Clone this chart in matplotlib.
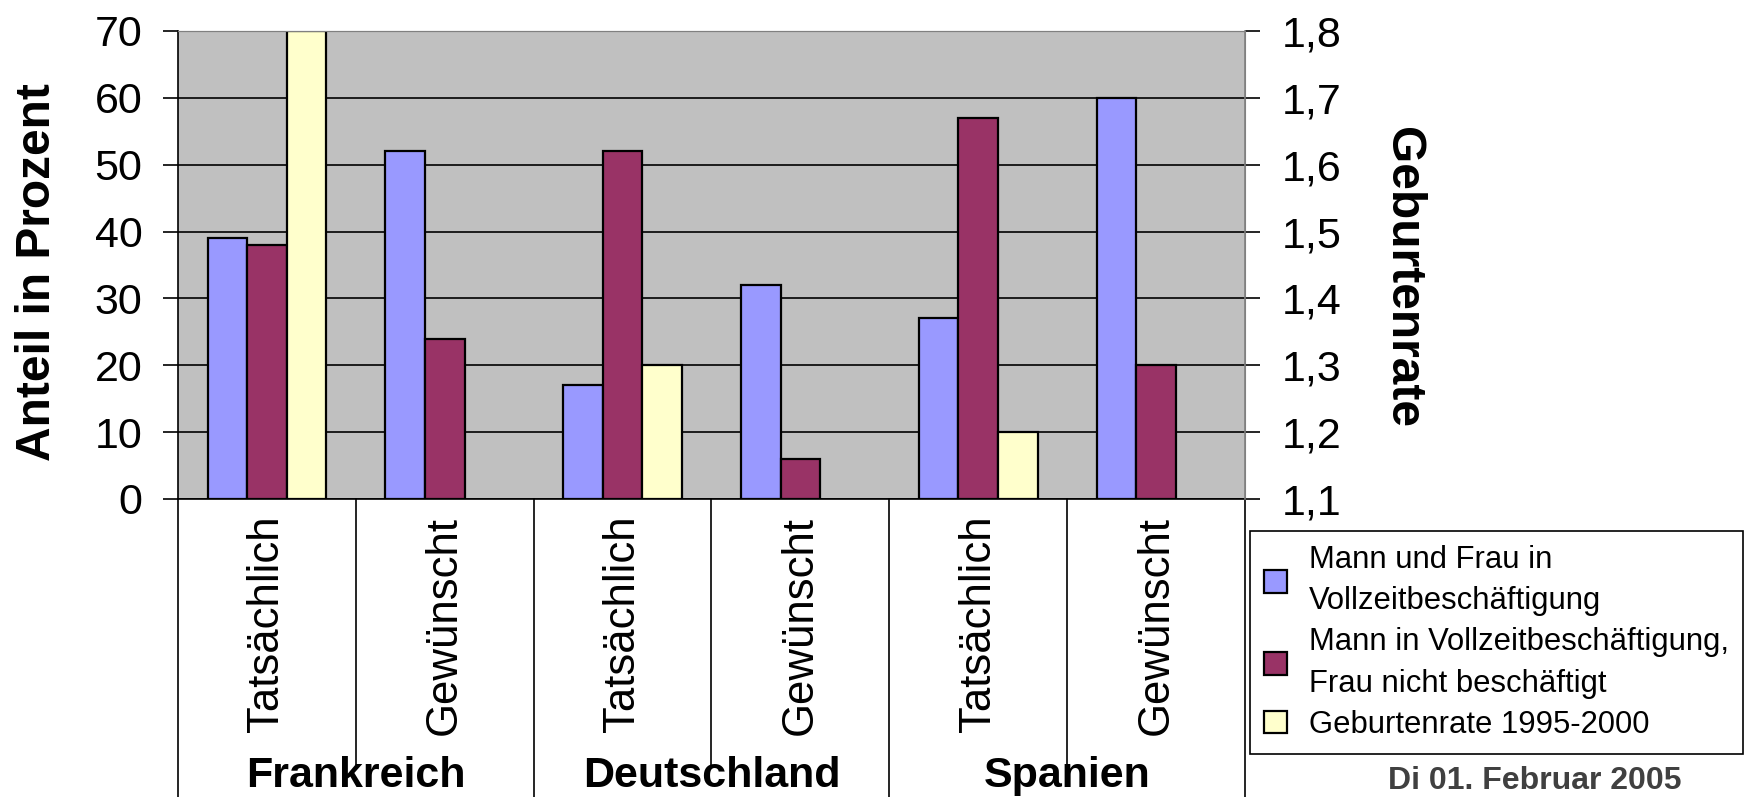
import numpy as np
import matplotlib
matplotlib.use("Agg")
import matplotlib.pyplot as plt

plt.rcParams['font.family'] = ['Liberation Sans', 'DejaVu Sans']

# ---- data ----
categories = ["Tatsächlich", "Gewünscht", "Tatsächlich", "Gewünscht", "Tatsächlich", "Gewünscht"]
countries = ["Frankreich", "Deutschland", "Spanien"]
beide_vollzeit = [39, 52, 17, 32, 27, 60]
nur_mann = [38, 24, 52, 6, 57, 20]
geburtenrate = [1.8, None, 1.3, None, 1.2, None]
left_ticks = [0, 10, 20, 30, 40, 50, 60, 70]
right_ticks = [1.1, 1.2, 1.3, 1.4, 1.5, 1.6, 1.7, 1.8]
right_tick_labels = ["1,1", "1,2", "1,3", "1,4", "1,5", "1,6", "1,7", "1,8"]
series_labels = ["Mann und Frau in\nVollzeitbeschäftigung",
                 "Mann in Vollzeitbeschäftigung,\nFrau nicht beschäftigt",
                 "Geburtenrate 1995-2000"]
date_text = "Di 01. Februar 2005"

# ---- layout ----
W, H = 1753, 797
fig = plt.figure(figsize=(W / 100, H / 100), dpi=100)
def fx(px): return px / W
def fy(py): return 1 - py / H
L, R, T, B = 178, 1245, 31, 499
ax = fig.add_axes([fx(L), fy(B), fx(R) - fx(L), fy(T) - fy(B)])
ax.set_facecolor('#C0C0C0')
ax.set_axisbelow(True)

x = np.arange(len(categories))
w = 1 / 4.5
b1 = ax.bar(x - w, beide_vollzeit, w, color='#9999FF', edgecolor='black', linewidth=1.6)
b2 = ax.bar(x, nur_mann, w, color='#993366', edgecolor='black', linewidth=1.6)
ax.set_xlim(-0.5, len(categories) - 0.5)
ax.set_ylim(0, 70)
ax.set_yticks(left_ticks)
ax.yaxis.grid(True, color='black', linewidth=1.2)
ax.tick_params(axis='y', length=10.5, width=1.2, pad=15, labelsize=31)
ax.set_xticks(x, categories, rotation=90, fontsize=31.5, va='top')
ax.tick_params(axis='x', length=0, pad=12)
for s in ['top', 'right']:
    ax.spines[s].set_color('#808080')
for s in ['left', 'bottom']:
    ax.spines[s].set_color('black')
    ax.spines[s].set_linewidth(1.2)

ax2 = ax.twinx()
gx = np.array([xi for xi, v in zip(x, geburtenrate) if v is not None])
gv = np.array([v for v in geburtenrate if v is not None])
b3 = ax2.bar(gx + w, gv - right_ticks[0], w, bottom=right_ticks[0],
             color='#FFFFCC', edgecolor='black', linewidth=1.6)
ax2.set_ylim(right_ticks[0], right_ticks[-1])
ax2.set_yticks(right_ticks, right_tick_labels)
ax2.tick_params(axis='y', length=10.5, width=1.2, pad=16, labelsize=31)
ax2.spines['left'].set_visible(False)
ax2.spines['bottom'].set_visible(False)
ax2.spines['top'].set_color('#808080')
ax2.spines['right'].set_color('#808080')
ax2.spines['right'].set_linewidth(1.2)

# category separators below the axis
tr = ax.get_xaxis_transform()
bounds = np.arange(len(categories) + 1) - 0.5
for i, bd in enumerate(bounds):
    depth = 0.75 if i % 2 == 0 else 0.568
    ax.plot([bd, bd], [0, -depth], transform=tr, clip_on=False, color='black', lw=1.2)
group_y = -(787 - B) / (B - T)
for gi, name in enumerate(countries):
    ax.text(2 * gi + 0.5, group_y, name, transform=tr, ha='center', va='baseline',
            fontsize=31, fontweight='bold')

# axis titles
fig.text(fx(38), fy(272), "Anteil in Prozent", rotation=90, ha='center', va='center',
         fontsize=34.5, fontweight='bold')
fig.text(fx(1402), fy(277), "Geburtenrate", rotation=-90, ha='center', va='center',
         fontsize=34.5, fontweight='bold')

# legend
leg = fig.legend([b1, b2, b3], series_labels, loc='upper left',
                 bbox_to_anchor=(fx(1250), fy(531)), fontsize=22.3,
                 frameon=True, fancybox=False, edgecolor='black', framealpha=1,
                 handlelength=0.74, handleheight=0.74, handletextpad=0.72,
                 borderpad=0.45, labelspacing=0.35, borderaxespad=0)
leg.get_frame().set_linewidth(1.2)
for t in leg.get_texts():
    t.set_linespacing(1.5)

fig.text(fx(1535), fy(789), date_text, ha='center', va='baseline', fontsize=23,
         fontweight='bold', color='#404040')

fig.savefig("out.png", dpi=100)
